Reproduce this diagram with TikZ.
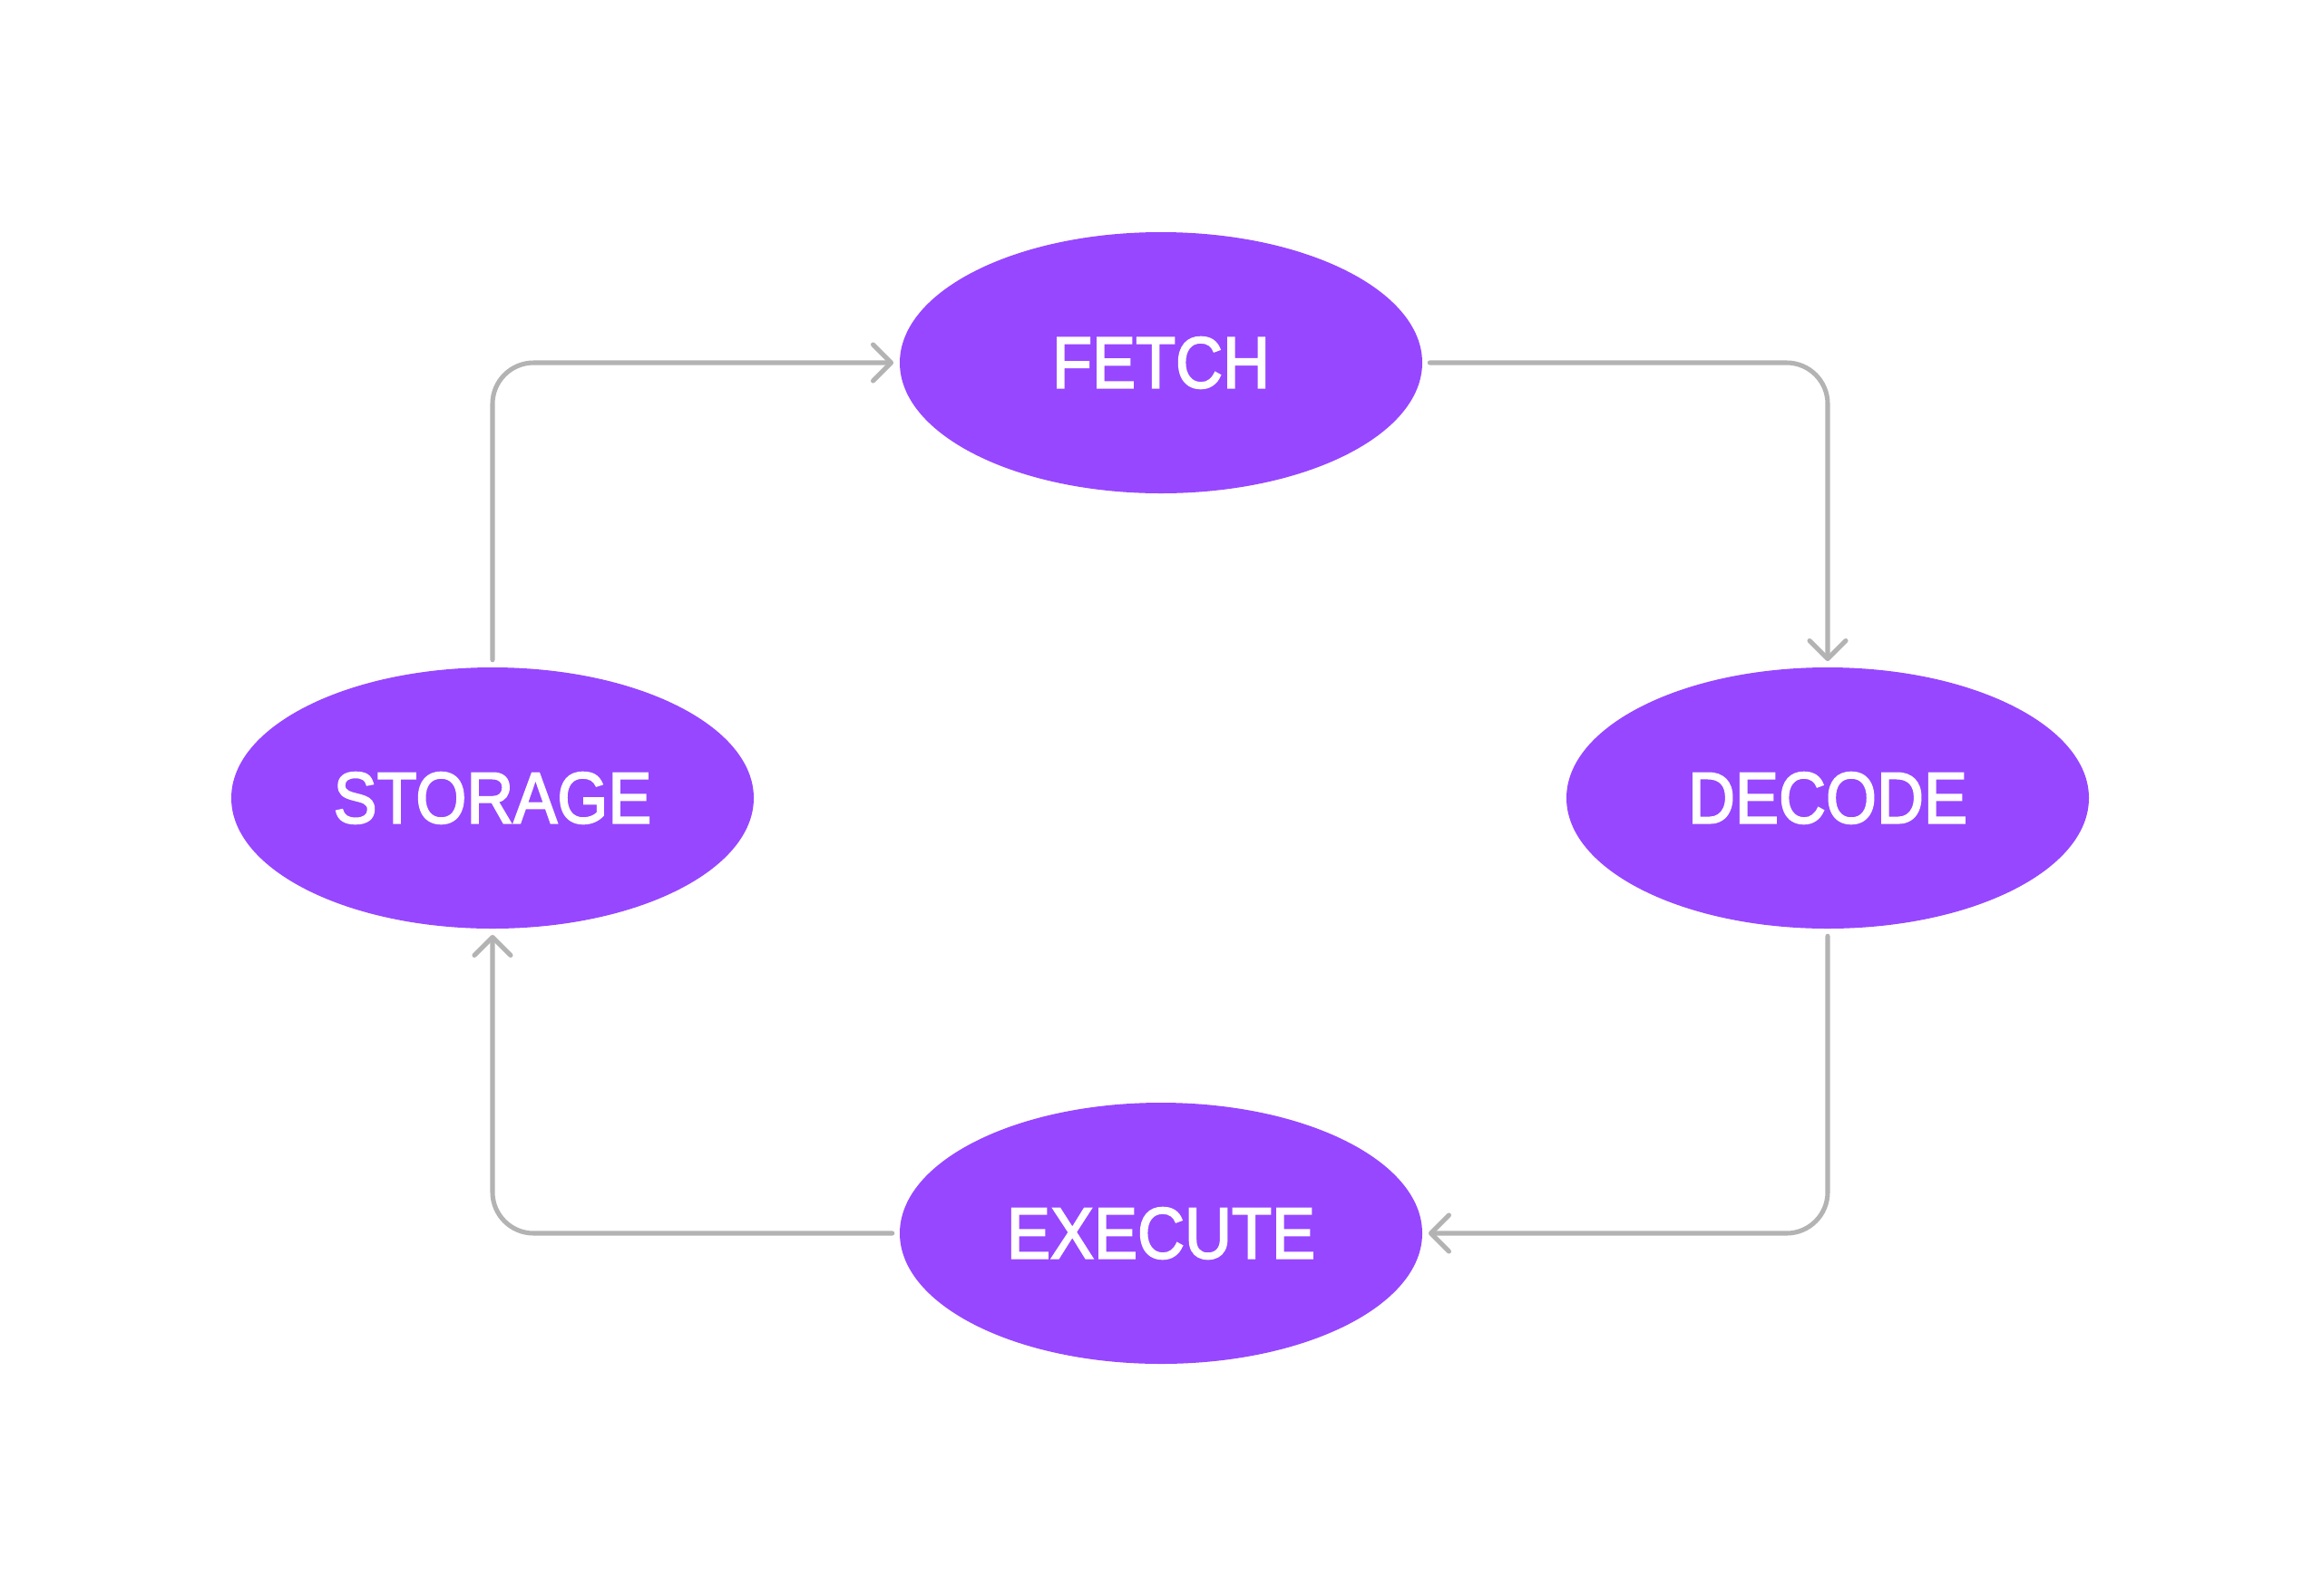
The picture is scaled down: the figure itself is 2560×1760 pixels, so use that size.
\documentclass[tikz,border=0pt]{standalone}
\usepackage{fontspec}
\setmainfont{Liberation Sans}
\newfontfamily\stagefont{Liberation Sans}[FakeBold=2.5]
\usetikzlibrary{shapes.geometric,arrows.meta}
\definecolor{nodepurple}{HTML}{9747FF}
\definecolor{edgegray}{HTML}{B3B3B3}
\newcommand{\stagetext}[1]{\scalebox{0.9}[1]{#1}}
\tikzset{
  stage/.style={ellipse, fill=nodepurple, draw=none, inner sep=0pt,
    minimum width=432pt, minimum height=216pt, text=white,
    font=\stagefont\fontsize{60}{60}\selectfont},
  flow/.style={draw=edgegray, line width=3.8pt, line cap=round, rounded corners=34pt,
    -{Straight Barb[length=15pt, width=30pt, line cap=round, line join=round]}}
}
\begin{document}
\begin{tikzpicture}[x=0.75pt,y=-0.75pt]
\useasboundingbox (0,0) rectangle (2560,1760);
\node[stage] (fetch) at (1280,400) {\stagetext{FETCH}};
\node[stage] (stor) at (543,880) {\stagetext{STORAGE}};
\node[stage] (dec) at (2015,880) {\stagetext{DECODE}};
\node[stage] (exe) at (1280,1360) {\stagetext{EXECUTE}};
\draw[flow] ([yshift=6pt]stor.north) |- ([xshift=-5pt]fetch.west);
\draw[flow] ([xshift=6pt]fetch.east) -| ([yshift=5pt]dec.north);
\draw[flow] ([yshift=-6pt]dec.south) |- ([xshift=5pt]exe.east);
\draw[flow] ([xshift=-6pt]exe.west) -| ([yshift=-5pt]stor.south);
\end{tikzpicture}
\end{document}
